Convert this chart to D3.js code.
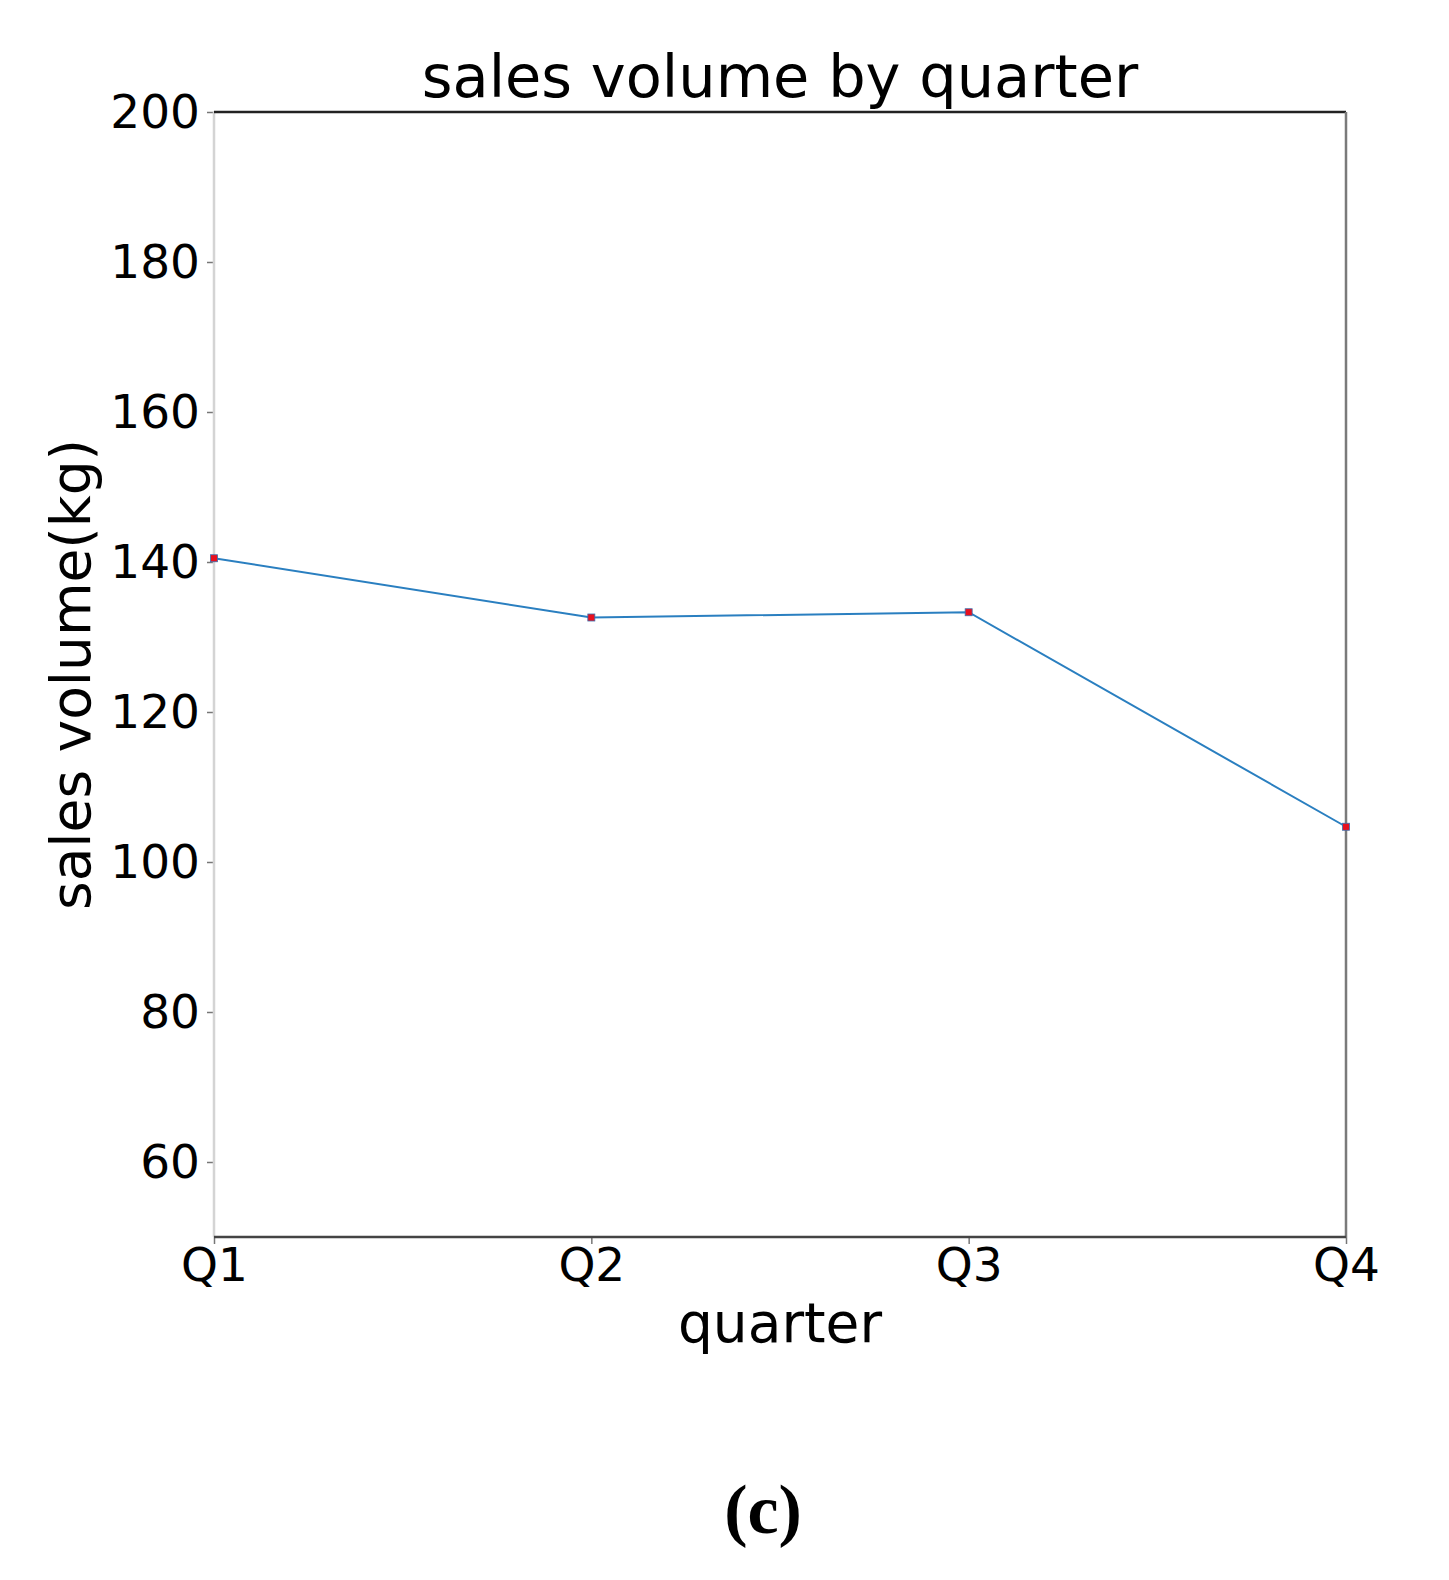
<!DOCTYPE html>
<html>
<head>
<meta charset="utf-8">
<script src="https://cdn.jsdelivr.net/npm/d3@7"></script>
<style>
  html, body { margin: 0; padding: 0; background: #fff; }
  svg { display: block; }
</style>
</head>
<body>
<svg id="chart" width="1449" height="1580"></svg>
<script>
const quarters = ["Q1", "Q2", "Q3", "Q4"];
const salesVolume = [140.5, 132.6, 133.3, 104.7];
const yTicks = [60, 80, 100, 120, 140, 160, 180, 200];
const yDomain = [50, 200];

const W = 1449, H = 1580;
const margin = { left: 214, right: 1449 - 1346, top: 112, bottom: 1580 - 1237 };
const svg = d3.select("#chart");
const x = d3.scalePoint().domain(quarters).range([margin.left, W - margin.right]);
const y = d3.scaleLinear().domain(yDomain).range([H - margin.bottom, margin.top]);
const SANS = "'DejaVu Sans', sans-serif";

// Y axis
const yAxis = svg.append("g")
  .attr("transform", `translate(${margin.left},0)`)
  .call(d3.axisLeft(y).tickValues(yTicks).tickSize(7).tickPadding(7).tickFormat(d3.format("d")));
yAxis.select(".domain").remove();
yAxis.selectAll(".tick line").attr("stroke", "#777").attr("stroke-width", 1.5);
yAxis.selectAll(".tick text").style("font-size", "47px").style("font-family", SANS).attr("fill", "#000");

// X axis
const xAxis = svg.append("g")
  .attr("transform", `translate(0,${H - margin.bottom})`)
  .call(d3.axisBottom(x).tickSize(7).tickPadding(4));
xAxis.select(".domain").remove();
xAxis.selectAll(".tick line").attr("stroke", "#777").attr("stroke-width", 1.5);
xAxis.selectAll(".tick text").style("font-size", "47px").style("font-family", SANS).attr("fill", "#000");

// Spines
const x0 = margin.left, x1 = W - margin.right, y0 = margin.top, y1 = H - margin.bottom;
svg.append("line").attr("x1", x0).attr("x2", x0).attr("y1", y0).attr("y2", y1)
  .attr("stroke", "#d4d4d4").attr("stroke-width", 2.5);
svg.append("line").attr("x1", x0).attr("x2", x1).attr("y1", y0).attr("y2", y0)
  .attr("stroke", "#222").attr("stroke-width", 2.5);
svg.append("line").attr("x1", x1).attr("x2", x1).attr("y1", y0).attr("y2", y1)
  .attr("stroke", "#7a7a7a").attr("stroke-width", 2.5);
svg.append("line").attr("x1", x0).attr("x2", x1).attr("y1", y1).attr("y2", y1)
  .attr("stroke", "#444").attr("stroke-width", 2.5);

// Line
const data = quarters.map((q, i) => ({ q, v: salesVolume[i] }));
svg.append("path").datum(data)
  .attr("fill", "none").attr("stroke", "#2a7fc0").attr("stroke-width", 2)
  .attr("d", d3.line().x(d => x(d.q)).y(d => y(d.v)));

// Markers
svg.selectAll("rect.mk").data(data).enter().append("rect")
  .attr("class", "mk")
  .attr("x", d => x(d.q) - 3.5).attr("y", d => y(d.v) - 3.5)
  .attr("width", 7).attr("height", 7)
  .attr("fill", "#e8101e").attr("stroke", "#3a6fb0").attr("stroke-width", 0.8);

// Title
svg.append("text").attr("x", (x0 + x1) / 2).attr("y", 97)
  .attr("text-anchor", "middle")
  .style("font-family", SANS).style("font-size", "59px")
  .text("sales volume by quarter");

// X label
svg.append("text").attr("x", (x0 + x1) / 2).attr("y", 1342)
  .attr("text-anchor", "middle")
  .style("font-family", SANS).style("font-size", "55px")
  .text("quarter");

// Y label
svg.append("text")
  .attr("transform", `translate(90,${(y0 + y1) / 2}) rotate(-90)`)
  .attr("text-anchor", "middle")
  .style("font-family", SANS).style("font-size", "55px")
  .text("sales volume(kg)");

// Panel label
svg.append("text").attr("x", 763).attr("y", 1533)
  .attr("text-anchor", "middle")
  .style("font-family", "'Liberation Serif', 'Times New Roman', serif")
  .style("font-weight", "bold").style("font-size", "70px")
  .text("(c)");
</script>
</body>
</html>
